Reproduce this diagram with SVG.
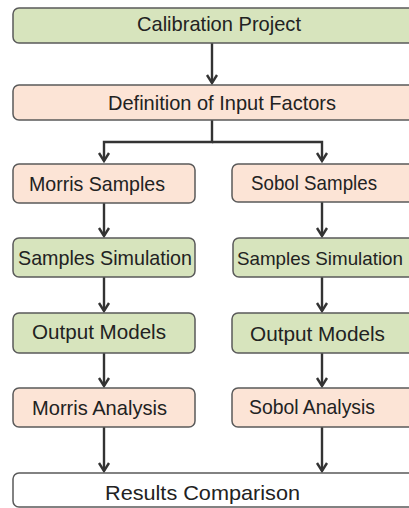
<svg xmlns="http://www.w3.org/2000/svg" width="409" height="508" viewBox="0 0 409 508">
<defs>
<marker id="arr" viewBox="-11 -7 13 14" refX="0" refY="0" markerWidth="13" markerHeight="14" markerUnits="userSpaceOnUse" orient="auto">
<path d="M-8,-5 L0,0 L-8,5" fill="none" stroke="#333" stroke-width="2.4" stroke-linejoin="miter"/>
</marker>
<style>
.box{stroke:#5a5a5a;stroke-width:1.5}
.g{fill:#d7e4bd}
.p{fill:#fce4d6}
.w{fill:#ffffff}
text{font-family:"Liberation Sans",Arial,sans-serif;font-size:21px;fill:#222}
.c{fill:none;stroke:#333;stroke-width:2.4}
</style>
</defs>
<rect width="409" height="508" fill="#ffffff"/>
<g id="connectors">
<line class="c" x1="212" y1="43" x2="212" y2="83" marker-end="url(#arr)"/>
<polyline class="c" points="212,120 212,142 104,142 104,161" marker-end="url(#arr)"/>
<polyline class="c" points="212,142 322,142 322,161" marker-end="url(#arr)"/>
<line class="c" x1="104" y1="203" x2="104" y2="236" marker-end="url(#arr)"/>
<line class="c" x1="322" y1="202" x2="322" y2="236" marker-end="url(#arr)"/>
<line class="c" x1="104" y1="277" x2="104" y2="311" marker-end="url(#arr)"/>
<line class="c" x1="322" y1="277" x2="322" y2="311" marker-end="url(#arr)"/>
<line class="c" x1="104" y1="353" x2="104" y2="386" marker-end="url(#arr)"/>
<line class="c" x1="322" y1="353" x2="322" y2="386" marker-end="url(#arr)"/>
<line class="c" x1="104" y1="427" x2="104" y2="471" marker-end="url(#arr)"/>
<line class="c" x1="322" y1="427" x2="322" y2="471" marker-end="url(#arr)"/>
</g>
<g id="calibration">
<rect class="box g" x="13" y="8" width="414" height="35" rx="6"/>
<text x="137" y="31" textLength="164" lengthAdjust="spacingAndGlyphs">Calibration Project</text>
</g>
<g id="definition">
<rect class="box p" x="13" y="85" width="414" height="35" rx="6"/>
<text x="108" y="110" textLength="228" lengthAdjust="spacingAndGlyphs">Definition of Input Factors</text>
</g>
<g id="morris-samples">
<rect class="box p" x="13" y="164" width="182" height="39" rx="6"/>
<text x="29" y="191" textLength="136" lengthAdjust="spacingAndGlyphs">Morris Samples</text>
</g>
<g id="sobol-samples">
<rect class="box p" x="232" y="164" width="182" height="38" rx="6"/>
<text x="251" y="190" textLength="126" lengthAdjust="spacingAndGlyphs">Sobol Samples</text>
</g>
<g id="morris-simulation">
<rect class="box g" x="13" y="238" width="182" height="39" rx="6"/>
<text x="18" y="265" textLength="174" lengthAdjust="spacingAndGlyphs">Samples Simulation</text>
</g>
<g id="sobol-simulation">
<rect class="box g" x="233" y="238" width="182" height="39" rx="6"/>
<text x="237" y="265" style="font-size:19px" textLength="166" lengthAdjust="spacingAndGlyphs">Samples Simulation</text>
</g>
<g id="morris-output">
<rect class="box g" x="13" y="313" width="182" height="40" rx="6"/>
<text x="32" y="339" textLength="134" lengthAdjust="spacingAndGlyphs">Output Models</text>
</g>
<g id="sobol-output">
<rect class="box g" x="232" y="313" width="182" height="40" rx="6"/>
<text x="250" y="341" textLength="135" lengthAdjust="spacingAndGlyphs">Output Models</text>
</g>
<g id="morris-analysis">
<rect class="box p" x="13" y="388" width="182" height="39" rx="6"/>
<text x="32" y="415" textLength="135" lengthAdjust="spacingAndGlyphs">Morris Analysis</text>
</g>
<g id="sobol-analysis">
<rect class="box p" x="232" y="388" width="182" height="39" rx="6"/>
<text x="249" y="414" textLength="126" lengthAdjust="spacingAndGlyphs">Sobol Analysis</text>
</g>
<g id="results">
<rect class="box w" x="13" y="473" width="414" height="34" rx="6"/>
<text x="105" y="500" textLength="195" lengthAdjust="spacingAndGlyphs">Results Comparison</text>
</g>
</svg>
